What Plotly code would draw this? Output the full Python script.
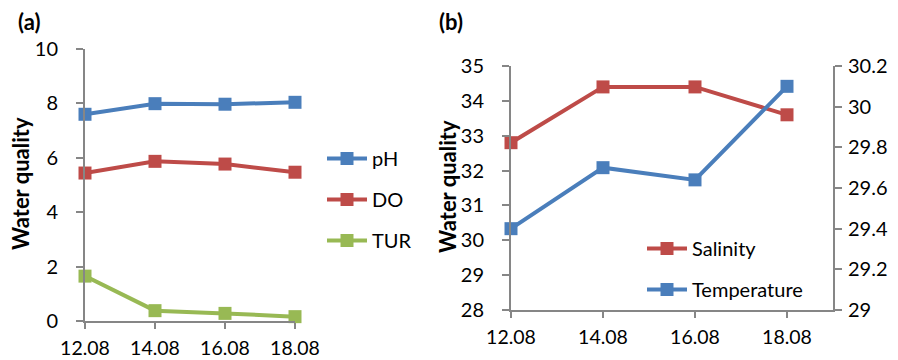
import plotly.graph_objects as go

dates = ["12.08", "14.08", "16.08", "18.08"]
ph = [7.6, 7.99, 7.97, 8.04]
do = [5.44, 5.87, 5.77, 5.47]
tur = [1.65, 0.38, 0.28, 0.16]
salinity = [32.8, 34.4, 34.4, 33.6]
temperature = [29.4, 29.7, 29.64, 30.1]

BLUE = "#4A7EBB"
RED = "#BE4B48"
GREEN = "#98B954"
AX = "#868686"
FONT = "Lato"
FS = 20

# the page body has an 8px margin: figure drawn at (8, 8)
OX, OY = 8, 8
W, H = 898 - OX, 360 - OY


def px(x):
    return (x - OX) / W


def py(y):
    return 1 - (y - OY) / H


fig = go.Figure()


def add(x, y, name, color, xa, ya, legend):
    fig.add_trace(go.Scatter(
        x=list(range(len(x))), y=y, name=name, mode="lines+markers",
        line=dict(color=color, width=4),
        marker=dict(symbol="square", size=13, color=color),
        xaxis=xa, yaxis=ya, legend=legend, legendgroup=name,
        cliponaxis=False))


add(dates, ph, "pH", BLUE, "x", "y", "legend")
add(dates, do, "DO", RED, "x", "y", "legend")
add(dates, tur, "TUR", GREEN, "x", "y", "legend")
add(dates, salinity, "Salinity", RED, "x2", "y2", "legend2")
add(dates, temperature, "Temperature", BLUE, "x2", "y3", "legend2")

tickfont = dict(family=FONT, size=FS, color="#000")
common_x = dict(tickmode="array", tickvals=list(range(len(dates))), ticktext=dates,
                showline=True, linecolor=AX, linewidth=2, ticks="outside",
                tickcolor=AX, ticklen=6, tickwidth=2, showgrid=False, zeroline=False,
                tickfont=dict(family=FONT, size=19.5, color="#000"),
                automargin=False, ticklabelstandoff=3)
common_y = dict(showline=True, linecolor=AX, linewidth=2, ticks="outside",
                tickcolor=AX, ticklen=7, tickwidth=2, showgrid=False, zeroline=False,
                tickfont=tickfont, automargin=False)

fig.update_layout(
    width=W, height=H,
    margin=dict(l=0, r=0, t=0, b=0, autoexpand=False),
    plot_bgcolor="white", paper_bgcolor="white",
    font=dict(family=FONT, color="#000"),
    xaxis=dict(domain=[px(85), px(295)], range=[0, 3], anchor="y", **common_x),
    yaxis=dict(domain=[py(321), py(49)], range=[0, 10], dtick=2, anchor="x",
               ticklabelstandoff=14, **common_y),
    xaxis2=dict(domain=[px(511), px(833)], range=[0, 3.5], anchor="y2", **common_x),
    yaxis2=dict(domain=[py(310), py(66)], range=[28, 35], dtick=1, anchor="x2",
                ticklabelstandoff=14, **common_y),
    yaxis3=dict(domain=[py(310), py(66)], range=[29, 30.2], dtick=0.2, overlaying="y2",
                side="right", anchor="x2", tickformat="~g", ticklabelstandoff=2,
                **common_y),
    showlegend=True,
    legend=dict(x=px(322), y=py(139), xanchor="left", yanchor="top",
                font=dict(family=FONT, size=FS), tracegroupgap=12, itemwidth=40,
                bgcolor="rgba(0,0,0,0)"),
    legend2=dict(x=px(642), y=py(229), xanchor="left", yanchor="top",
                 font=dict(family=FONT, size=FS), tracegroupgap=12, itemwidth=40,
                 bgcolor="rgba(0,0,0,0)"),
    annotations=[
        dict(text="<b>(a)</b>", x=px(16), y=py(21), xref="paper", yref="paper",
             xanchor="left", yanchor="middle", showarrow=False,
             font=dict(family=FONT, size=22)),
        dict(text="<b>(b)</b>", x=px(437), y=py(21), xref="paper", yref="paper",
             xanchor="left", yanchor="middle", showarrow=False,
             font=dict(family=FONT, size=22)),
        dict(text="<b>Water quality</b>", x=px(20), y=py(184), xref="paper", yref="paper",
             xanchor="center", yanchor="middle", showarrow=False, textangle=-90,
             font=dict(family=FONT, size=22)),
        dict(text="<b>Water quality</b>", x=px(447), y=py(187), xref="paper", yref="paper",
             xanchor="center", yanchor="middle", showarrow=False, textangle=-90,
             font=dict(family=FONT, size=22)),
    ],
)

fig.write_html("out.html")
